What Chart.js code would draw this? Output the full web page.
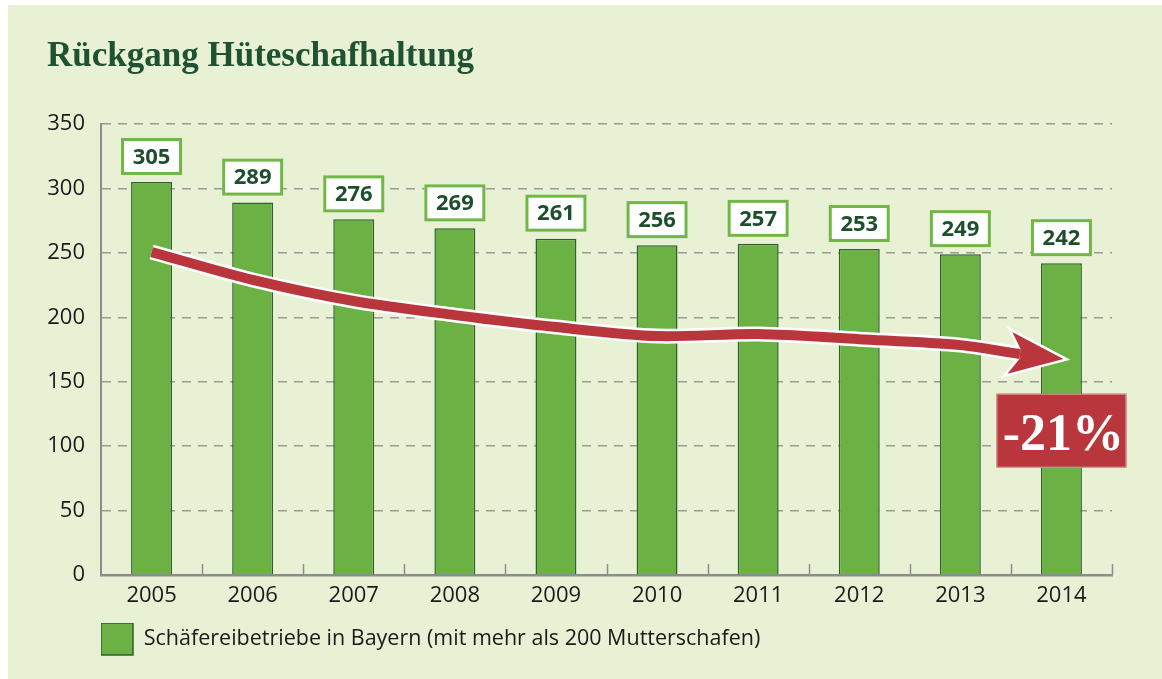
<!DOCTYPE html>
<html lang="de">

<head>
    <meta charset="UTF-8">
    <script src="https://cdn.jsdelivr.net/npm/chart.js"></script>
    <title>Rückgang Hüteschafhaltung</title>
    <style>
        html, body { margin: 0; padding: 0; background: #ffffff; }
        #panel { position: absolute; left: 8px; top: 5px; width: 1154px; height: 674px; background: #e9f1d5; }
        #wrap { position: absolute; left: 0; top: 0; width: 1162px; height: 679px; }
    </style>
</head>

<body>
    <div id="panel"></div>
    <div id="wrap"><canvas id="chart" width="1162" height="679"></canvas></div>

    <script>
        // Daten
        const years = ['2005', '2006', '2007', '2008', '2009', '2010', '2011', '2012', '2013', '2014'];
        const betriebe = [305, 289, 276, 269, 261, 256, 257, 253, 249, 242];
        const yMin = 0, yMax = 350, yStep = 50;

        // Trendpfeil (x = Kategorie-Index, y = Wert), letzter Punkt = Pfeilspitze
        const trendX = [0, 1, 2, 3, 4, 5, 6, 7, 8, 8.59, 9.02];
        const trendY = [250.6, 229, 212.6, 201.7, 192.4, 185.4, 187, 183, 178.4, 171.5, 167.6];
        const trendLabel = '-21%';
        const trendLabelAt = [9, 112];

        const legendText = 'Schäfereibetriebe in Bayern (mit mehr als 200 Mutterschafen)';

        const red = '#b8363c';
        const trendPts = trendX.map((x, i) => ({ x: x, y: trendY[i] }));
        const hideLast = ctx => ctx.p1DataIndex === trendPts.length - 1 ? 'rgba(0,0,0,0)' : undefined;

        function headPath(ctx, pts) {
            const tip = pts[pts.length - 1], base = pts[pts.length - 2];
            let ux = tip.x - base.x, uy = tip.y - base.y;
            const len = Math.hypot(ux, uy);
            ux /= len; uy /= len;
            const nx = -uy, ny = ux;
            const back = 54, half = 21, body = 5;
            ctx.beginPath();
            ctx.moveTo(tip.x, tip.y);
            ctx.lineTo(tip.x - back * ux - half * nx, tip.y - back * uy - half * ny);
            ctx.lineTo(base.x - body * nx, base.y - body * ny);
            ctx.lineTo(base.x + body * nx, base.y + body * ny);
            ctx.lineTo(tip.x - back * ux + half * nx, tip.y - back * uy + half * ny);
            ctx.closePath();
        }

        const arrowHead = {
            id: 'arrowHead',
            afterDatasetDraw(chart, args) {
                if (args.index !== 1 && args.index !== 2) return;
                const ctx = chart.ctx;
                const pts = args.meta.data.map(p => ({ x: p.x, y: p.y }));
                ctx.save();
                headPath(ctx, pts);
                if (args.index === 1) {
                    ctx.lineJoin = 'miter';
                    ctx.lineWidth = 5;
                    ctx.strokeStyle = '#ffffff';
                    ctx.stroke();
                } else {
                    ctx.fillStyle = red;
                    ctx.fill();
                }
                ctx.restore();
            }
        };

        const extras = {
            id: 'extras',
            afterDatasetsDraw(chart) {
                const ctx = chart.ctx;
                const xs = chart.scales.x;
                const area = chart.chartArea;
                ctx.save();
                // Teilstriche an der x-Achse (nach oben)
                ctx.strokeStyle = '#8c8c8c';
                ctx.lineWidth = 1.5;
                for (let i = 1; i <= years.length; i++) {
                    const px = Math.round(xs.getPixelForValue(i - 0.5)) + 0.5;
                    ctx.beginPath();
                    ctx.moveTo(px, area.bottom);
                    ctx.lineTo(px, area.bottom - 11);
                    ctx.stroke();
                }
                // Wertekästchen
                const meta = chart.getDatasetMeta(0);
                ctx.font = 'bold 22px "Open Sans"';
                ctx.textAlign = 'center';
                ctx.textBaseline = 'middle';
                meta.data.forEach((bar, i) => {
                    const w = 61, h = 37;
                    const bottom = bar.y - 7;
                    ctx.fillStyle = '#ffffff';
                    ctx.fillRect(bar.x - w / 2, bottom - h, w, h);
                    ctx.strokeStyle = '#70b746';
                    ctx.lineWidth = 3;
                    ctx.strokeRect(bar.x - w / 2 + 1.5, bottom - h + 1.5, w - 3, h - 3);
                    ctx.fillStyle = '#1e4f2d';
                    ctx.fillText(String(betriebe[i]), bar.x, bottom - h / 2 + 1);
                });
                ctx.restore();
            },
            afterDraw(chart) {
                const ctx = chart.ctx;
                const cx = chart.scales.x.getPixelForValue(trendLabelAt[0]);
                const cy = chart.scales.y.getPixelForValue(trendLabelAt[1]);
                const w = 130, h = 74;
                ctx.save();
                ctx.fillStyle = red;
                ctx.fillRect(cx - w / 2, cy - h / 2, w, h);
                ctx.strokeStyle = '#d7a49d';
                ctx.lineWidth = 1;
                ctx.strokeRect(cx - w / 2 + 0.5, cy - h / 2 + 0.5, w - 1, h - 1);
                ctx.fillStyle = '#ffffff';
                ctx.font = 'bold 52px "Liberation Serif"';
                ctx.textAlign = 'center';
                ctx.textBaseline = 'alphabetic';
                ctx.fillText(trendLabel, cx + 2, cy + 19);
                ctx.restore();
            }
        };

        const ctx = document.getElementById('chart').getContext('2d');
        new Chart(ctx, {
            type: 'bar',
            data: {
                labels: years,
                datasets: [{
                    type: 'bar',
                    label: legendText,
                    data: betriebe,
                    backgroundColor: '#6cb144',
                    borderColor: '#2f5f31',
                    borderWidth: 1.5,
                    borderSkipped: 'bottom',
                    grouped: false,
                    categoryPercentage: 1,
                    barPercentage: 0.405,
                    order: 3
                }, {
                    type: 'line',
                    data: trendPts,
                    xAxisID: 'xt',
                    borderColor: '#ffffff',
                    borderWidth: 15,
                    pointRadius: 0,
                    tension: 0.3,
                    segment: { borderColor: hideLast },
                    order: 2
                }, {
                    type: 'line',
                    data: trendPts,
                    xAxisID: 'xt',
                    borderColor: red,
                    borderWidth: 10,
                    pointRadius: 0,
                    tension: 0.3,
                    segment: { borderColor: hideLast },
                    order: 1
                }]
            },
            options: {
                responsive: false,
                animation: false,
                layout: { padding: { left: 47, right: 50, top: 0, bottom: 14 } },
                scales: {
                    x: {
                        type: 'category',
                        offset: true,
                        grid: { display: false },
                        border: { display: true, color: '#8c8c8c', width: 2.5 },
                        ticks: { color: '#1a1a1a', font: { family: 'Open Sans', size: 22 }, padding: 0 },
                        afterFit: s => { s.height = 48; }
                    },
                    xt: {
                        type: 'linear',
                        display: false,
                        offset: false,
                        min: -0.5,
                        max: years.length - 0.5
                    },
                    y: {
                        min: yMin,
                        max: yMax,
                        ticks: { stepSize: yStep, color: '#1a1a1a', font: { family: 'Open Sans', size: 22 }, padding: 16 },
                        grid: { color: '#9a9a9a', lineWidth: 1.5, drawTicks: false },
                        border: { display: true, color: '#8c8c8c', width: 2, dash: [9, 7] },
                        afterFit: s => { s.width = 54; }
                    }
                },
                plugins: {
                    title: {
                        display: true,
                        text: 'Rückgang Hüteschafhaltung',
                        align: 'start',
                        color: '#1f5232',
                        font: { family: 'Liberation Serif', size: 35, weight: 'bold', lineHeight: 1.2 },
                        padding: { top: 36, bottom: 46 }
                    },
                    legend: {
                        display: true,
                        position: 'bottom',
                        align: 'start',
                        fullSize: false,
                        labels: {
                            filter: item => item.datasetIndex === 0,
                            boxWidth: 32,
                            boxHeight: 32,
                            padding: 0,
                            color: '#1a1a1a',
                            font: { family: 'Open Sans', size: 21.5 }
                        }
                    },
                    tooltip: { enabled: false }
                }
            },
            plugins: [arrowHead, extras]
        });
    </script>
</body>

</html>
